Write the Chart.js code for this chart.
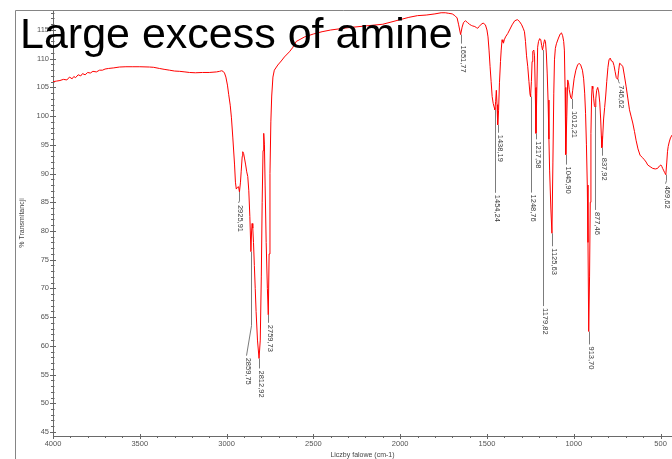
<!DOCTYPE html>
<html>
<head>
<meta charset="utf-8">
<script src="https://cdn.jsdelivr.net/npm/chart.js@4/dist/chart.umd.min.js"></script>
<style>
  html, body { margin: 0; padding: 0; background: #fff; overflow: hidden; }
  #wrap { width: 672px; height: 459px; position: relative; }
</style>
</head>
<body>
<div id="wrap"><canvas id="ir" width="672" height="459"></canvas></div>
<script>
// IR spectrum: wavenumber (cm-1) and % transmittance
const wavenumbers = [
  4000, 3980, 3960, 3940, 3920, 3905, 3890, 3880, 3870, 3855, 3840, 3830, 3815, 3800, 3785, 3770, 3750, 3732, 3715, 3700,
  3680, 3650, 3617, 3580, 3540, 3500, 3444, 3420, 3387, 3360, 3329, 3300, 3270, 3240, 3214, 3180, 3139, 3100, 3058, 3040,
  3029, 3020, 3012, 3004, 2995, 2988, 2979, 2972, 2964, 2954, 2949, 2944, 2938, 2931, 2925.91, 2920, 2916, 2910, 2907, 2902,
  2897, 2890, 2884, 2878, 2872, 2866, 2859.75, 2856, 2853, 2849, 2845, 2840, 2835, 2830, 2822, 2812.92, 2806, 2800, 2795, 2790,
  2786, 2782, 2778, 2772, 2765, 2759.73, 2755, 2750, 2745, 2740, 2733, 2725, 2705, 2685, 2667, 2638, 2620, 2599, 2550, 2500,
  2450, 2400, 2300, 2200, 2100, 2000, 1950, 1900, 1850, 1800, 1764, 1740, 1720, 1700, 1685, 1672, 1663, 1651.77, 1643, 1635,
  1624, 1612, 1601, 1590, 1582, 1570, 1560, 1553, 1545, 1533, 1522, 1509, 1500, 1494, 1488, 1482, 1476, 1470, 1464, 1458,
  1454.24, 1450, 1446, 1442, 1438.19, 1433, 1428, 1422, 1418, 1413, 1408, 1405, 1400, 1393, 1380, 1370, 1355, 1340, 1325, 1313,
  1300, 1290, 1284, 1278, 1272, 1265, 1258, 1252, 1248.76, 1244, 1240, 1236, 1230, 1226, 1222, 1217.58, 1213, 1208, 1203, 1196,
  1190, 1185, 1179.82, 1174, 1168, 1163, 1158, 1153, 1148, 1143, 1139, 1132, 1125.63, 1120, 1115, 1111, 1106, 1100, 1088, 1078,
  1071, 1064, 1058, 1054, 1050, 1045.90, 1040, 1035, 1030, 1026, 1018, 1012.21, 1006, 998, 988, 978, 969, 960, 950, 943,
  937, 932, 927, 922, 918, 913.70, 909, 905, 901, 897, 894, 890, 885, 881, 877.46, 873, 868, 862, 856, 850,
  845, 841, 837.92, 834, 828, 822, 816, 810, 803, 797, 790, 783, 775, 768, 762, 755, 746.62, 741, 736, 727,
  717, 708, 698, 688, 679, 670, 660, 650, 641, 630, 618, 605, 593, 583, 574, 560, 545, 530, 517, 507,
  498, 492, 488, 483, 477, 469.62, 464, 460, 456, 450, 443, 434
];
const transmittance = [
  106.0, 106.1, 106.2, 106.4, 106.3, 106.8, 106.5, 106.9, 106.7, 107.2, 107.0, 107.4, 107.2, 107.6, 107.5, 107.8, 107.7, 108.0, 108.0, 108.2,
  108.3, 108.4, 108.55, 108.6, 108.6, 108.6, 108.55, 108.5, 108.3, 108.15, 108.0, 107.85, 107.8, 107.7, 107.6, 107.55, 107.6, 107.6, 107.7, 107.8,
  107.9, 107.8, 107.5, 106.8, 105.4, 103.8, 101.9, 99.7, 96.2, 91.5, 88.5, 87.3, 87.6, 87.7, 86.8, 88.5, 90.3, 93.0, 93.8, 93.5,
  92.7, 91.5, 90.3, 89.5, 87.0, 82.5, 76.4, 80.0, 81.3, 80.5, 78.0, 74.0, 70.0, 66.0, 61.0, 57.8, 61.0, 72.0, 85.0, 94.0,
  97.0, 95.0, 88.0, 78.0, 70.0, 65.4, 76.0, 90.0, 99.0, 103.5, 106.8, 108.0, 108.9, 109.6, 110.3, 111.2, 111.9, 113.0, 113.8, 114.3,
  114.7, 115.0, 115.4, 115.7, 116.0, 116.8, 117.2, 117.5, 117.6, 117.8, 118.0, 118.0, 117.9, 117.8, 117.5, 117.1, 115.9, 114.2, 115.5, 116.3,
  116.6, 116.3, 116.0, 115.8, 115.7, 115.6, 115.4, 115.3, 115.6, 116.0, 116.2, 115.9, 115.0, 113.8, 111.5, 108.6, 106.0, 103.4, 102.2, 101.5,
  101.1, 102.5, 104.5, 102.0, 98.5, 101.0, 105.8, 109.5, 111.5, 113.3, 112.9, 112.7, 113.3, 113.8, 114.4, 115.0, 115.9, 116.6, 116.8, 116.5,
  115.9, 115.2, 114.7, 113.0, 110.5, 108.6, 106.0, 103.8, 103.4, 106.0, 109.5, 111.3, 111.5, 110.5, 105.0, 97.0, 104.0, 112.0, 113.0, 113.5,
  113.3, 112.3, 111.5, 112.5, 113.3, 113.0, 111.0, 107.5, 102.8, 96.0, 90.6, 84.0, 79.6, 92.0, 104.0, 109.8, 111.8, 112.6, 113.6, 114.3,
  114.5, 114.0, 113.0, 111.5, 105.0, 93.3, 100.0, 106.3, 105.8, 104.6, 103.3, 103.0, 104.5, 106.5, 108.0, 108.9, 109.2, 108.9, 108.0, 106.5,
  104.0, 100.5, 95.0, 88.0, 78.0, 62.5, 72.0, 85.0, 97.0, 103.5, 105.2, 104.8, 103.0, 101.8, 101.6, 103.0, 104.5, 105.0, 104.2, 102.3,
  99.5, 96.5, 94.5, 96.0, 99.5, 101.5, 103.5, 106.0, 108.5, 109.8, 110.1, 109.6, 109.5, 108.8, 107.8, 106.7, 106.4, 108.0, 109.2, 109.0,
  108.6, 107.0, 105.1, 103.0, 101.1, 100.0, 98.8, 97.3, 95.8, 94.3, 93.2, 92.8, 92.4, 92.0, 91.5, 91.2, 90.9, 90.8, 90.9, 91.3,
  91.5, 91.2, 90.9, 90.6, 90.2, 89.8, 92.0, 93.8, 94.7, 95.5, 96.2, 96.7
];

// Picked peaks (cm-1)
const peakWavenumbers = [
  2925.91, 2859.75, 2812.92, 2759.73, 1651.77, 1454.24, 1438.19, 1248.76, 1217.58,
  1179.82, 1125.63, 1045.90, 1012.21, 913.70, 877.46, 837.92, 746.62, 469.62
];

// Axis tick values
const xMajorTicks = [500, 1000, 1500, 2000, 2500, 3000, 3500, 4000];
const yMajorTicks = [45, 50, 55, 60, 65, 70, 75, 80, 85, 90, 95, 100, 105, 110, 115];

// Leader geometry for each peak label: [drop px, sideways shift px, bend px]
const leaderLayout = [
  [9, -1, 2], [74, -5, 30], [10, 0, 0], [8, 0, 0], [9, 0, 0], [83, 0, 0], [8, 0, 0], [96, 0, 0], [6, 0, 0],
  [256, 0, 0], [13, 0, 0], [10, 0, 0], [10, 0, 0], [13, 0, 0], [103, 0, 0], [8, 0, 0], [2, 1, 2], [6, -1, 3]
];

const FONT = '"Liberation Sans", Arial, Helvetica, sans-serif';

const decor = {
  id: 'decor',
  beforeDraw(chart) {
    const c = chart.ctx;
    c.save();
    c.fillStyle = '#ffffff';
    c.fillRect(0, 0, chart.width, chart.height);
    c.restore();
  },
  afterDraw(chart) {
    const c = chart.ctx;
    const xs = chart.scales.x, ys = chart.scales.y;
    const area = chart.chartArea;
    c.save();

    // outer frame
    c.strokeStyle = '#858585';
    c.lineWidth = 1;
    c.beginPath();
    c.moveTo(15.5, chart.height);
    c.lineTo(15.5, 10.5);
    c.lineTo(chart.width, 10.5);
    c.stroke();

    // y ticks: minor every 1, major every 5
    c.strokeStyle = '#666';
    c.beginPath();
    for (let v = Math.ceil(ys.min); v <= Math.floor(ys.max); v++) {
      const py = Math.round(ys.getPixelForValue(v)) + 0.5;
      const major = v % 5 === 0;
      c.moveTo(area.left - (major ? 3 : 2), py);
      c.lineTo(area.left + (major ? 3 : 1.5), py);
    }
    // x ticks: minor every 100, major every 500
    for (let v = 500; v <= 4000; v += 100) {
      if (v < xs.min) continue;
      const px = Math.round(xs.getPixelForValue(v)) + 0.5;
      const major = v % 500 === 0;
      c.moveTo(px, area.bottom - (major ? 2 : 0));
      c.lineTo(px, area.bottom + (major ? 3 : 2));
    }
    c.stroke();

    // peak leaders and labels
    c.font = '7.5px ' + FONT;
    c.textBaseline = 'middle';
    c.textAlign = 'left';
    peakWavenumbers.forEach((wn, i) => {
      const idx = wavenumbers.indexOf(wn);
      if (idx < 0) return;
      const px = Math.round(xs.getPixelForValue(wn)) + 0.5;
      const py = ys.getPixelForValue(transmittance[idx]);
      const [drop, shift, bend] = leaderLayout[i];
      c.strokeStyle = '#7c7c7c';
      c.beginPath();
      c.moveTo(px, py);
      c.lineTo(px, py + drop);
      let ex = px, ey = py + drop;
      if (shift !== 0 || bend !== 0) {
        ex = px + shift; ey = py + drop + bend;
        c.lineTo(ex, ey);
      }
      c.stroke();
      const label = wn.toFixed(2).replace('.', ',');
      c.save();
      c.translate(ex + 2, ey + 2);
      c.rotate(Math.PI / 2);
      c.fillStyle = '#3a3a3a';
      c.fillText(label, 0, 0);
      c.restore();
    });

    // heading
    c.fillStyle = '#000';
    c.font = '43px ' + FONT;
    c.textBaseline = 'alphabetic';
    c.textAlign = 'left';
    c.fillText('Large excess of amine', 20, 48);
    c.restore();
  }
};

new Chart(document.getElementById('ir'), {
  type: 'line',
  data: {
    datasets: [{
      data: wavenumbers.map((w, i) => ({ x: w, y: transmittance[i] })),
      borderColor: '#ff0000',
      borderWidth: 1,
      pointRadius: 0,
      tension: 0,
      fill: false
    }]
  },
  options: {
    responsive: false,
    animation: false,
    devicePixelRatio: 1,
    layout: { padding: { top: 10, left: 0, right: 0, bottom: 0 } },
    plugins: { legend: { display: false }, tooltip: { enabled: false } },
    scales: {
      x: {
        type: 'linear',
        reverse: true,
        min: 434,
        max: 4000,
        afterFit(s) { s.height = 23; },
        afterBuildTicks(s) { s.ticks = xMajorTicks.map(v => ({ value: v })); },
        grid: { display: false, drawTicks: false, tickLength: 0 },
        border: { display: true, color: '#6a6a6a', width: 1 },
        ticks: {
          autoSkip: false, maxRotation: 0, minRotation: 0, padding: 3,
          color: '#555', font: { family: FONT, size: 7.5 },
          callback: v => String(v)
        },
        title: {
          display: true, text: 'Liczby falowe (cm-1)', color: '#444',
          font: { family: FONT, size: 7 }, padding: { top: 0, bottom: 0 }
        }
      },
      y: {
        type: 'linear',
        min: 44.3,
        max: 118.48,
        afterFit(s) { s.width = 53; },
        afterBuildTicks(s) { s.ticks = yMajorTicks.map(v => ({ value: v })); },
        grid: { display: false, drawTicks: false, tickLength: 0 },
        border: { display: true, color: '#6a6a6a', width: 1 },
        ticks: {
          padding: 4, color: '#555', font: { family: FONT, size: 7.5 },
          callback: v => String(v)
        },
        title: {
          display: true, text: '% Transmitancji', color: '#444',
          font: { family: FONT, size: 7 }, padding: { top: 17.5, bottom: 0 }
        }
      }
    }
  },
  plugins: [decor]
});
</script>
</body>
</html>
